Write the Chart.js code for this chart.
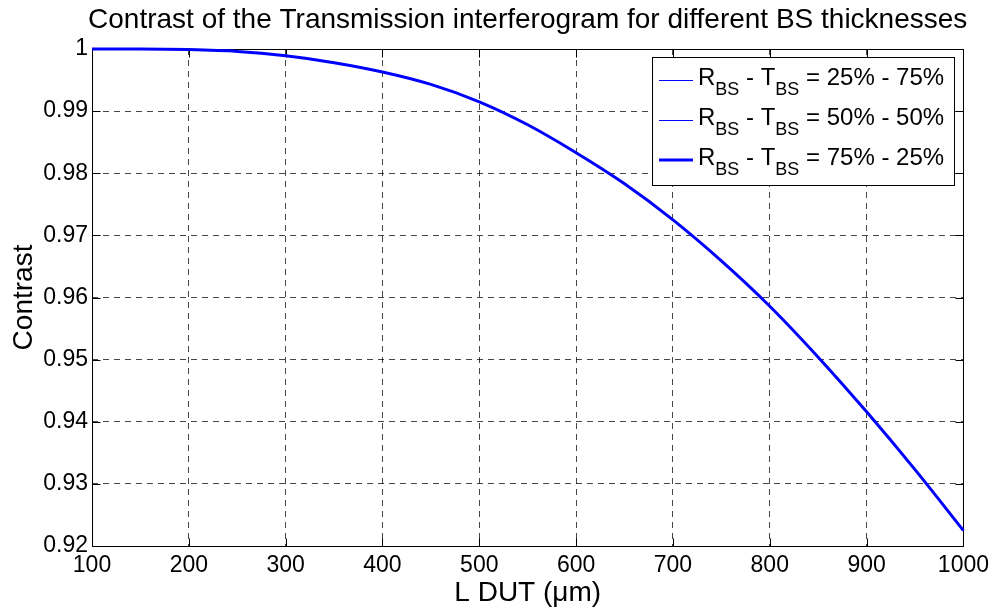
<!DOCTYPE html>
<html>
<head>
<meta charset="utf-8">
<script src="https://cdn.jsdelivr.net/npm/chart.js@4.4.1/dist/chart.umd.min.js"></script>
<style>
  html, body { margin: 0; padding: 0; background: #fff; }
  #wrap { width: 995px; height: 610px; position: relative; }
</style>
</head>
<body>
<div id="wrap"><canvas id="grafico"></canvas></div>
<script>
// L DUT en µm
const lDut = [100, 150, 200, 250, 300, 350, 400, 450, 500, 550, 600, 650, 700, 750, 800, 850, 900, 950, 1000];

// les trois courbes se superposent sur la figure
const contraste25 = [1.0000, 1.0000, 0.9999, 0.9996, 0.9989, 0.9978, 0.9963, 0.9943, 0.9915, 0.9878, 0.9833, 0.9783, 0.9725, 0.9659, 0.9586, 0.9504, 0.9416, 0.9323, 0.9225];
const contraste50 = [1.0000, 1.0000, 0.9999, 0.9996, 0.9989, 0.9978, 0.9963, 0.9943, 0.9915, 0.9878, 0.9833, 0.9783, 0.9725, 0.9659, 0.9586, 0.9504, 0.9416, 0.9323, 0.9225];
const contraste75 = [1.0000, 1.0000, 0.9999, 0.9996, 0.9989, 0.9978, 0.9963, 0.9943, 0.9915, 0.9878, 0.9833, 0.9783, 0.9725, 0.9659, 0.9586, 0.9504, 0.9416, 0.9323, 0.9225];

const xTicks = [100, 200, 300, 400, 500, 600, 700, 800, 900, 1000];
const yTicks = [0.92, 0.93, 0.94, 0.95, 0.96, 0.97, 0.98, 0.99, 1];

const legendes = [
  { r: '25%', t: '75%', largeur: 1 },
  { r: '50%', t: '50%', largeur: 1 },
  { r: '75%', t: '25%', largeur: 3 },
];

const FONTE = '"Liberation Sans", Arial, Helvetica, sans-serif';
const BLEU = '#0000ff';

const pontos = (ys) => lDut.map((x, i) => ({ x, y: ys[i] }));

// cadre + petites graduations vers l'intérieur (style MATLAB)
const cadre = {
  id: 'cadre',
  beforeDatasetsDraw(chart) {
    const { ctx, scales } = chart;
    const g = Math.round(scales.x.getPixelForValue(xTicks[0])) + 0.5;
    const d = Math.round(scales.x.getPixelForValue(xTicks[xTicks.length - 1])) + 0.5;
    const h = Math.round(scales.y.getPixelForValue(yTicks[yTicks.length - 1])) + 0.5;
    const b = Math.round(scales.y.getPixelForValue(yTicks[0])) + 0.5;
    ctx.save();
    ctx.strokeStyle = '#000';
    ctx.lineWidth = 1;
    ctx.setLineDash([]);
    ctx.strokeRect(g, h, d - g, b - h);
    const tl = 8;
    ctx.beginPath();
    xTicks.forEach(v => {
      const px = Math.round(scales.x.getPixelForValue(v)) + 0.5;
      ctx.moveTo(px, b); ctx.lineTo(px, b - tl);
      ctx.moveTo(px, h); ctx.lineTo(px, h + tl);
    });
    yTicks.forEach(v => {
      const py = Math.round(scales.y.getPixelForValue(v)) + 0.5;
      ctx.moveTo(g, py); ctx.lineTo(g + tl, py);
      ctx.moveTo(d, py); ctx.lineTo(d - tl, py);
    });
    ctx.stroke();
    ctx.restore();
  },
  afterDraw(chart) {
    const { ctx, chartArea: a } = chart;
    const cx = (a.left + a.right) / 2;
    ctx.save();
    ctx.fillStyle = '#000';

    // titre
    ctx.font = '28px ' + FONTE;
    ctx.textAlign = 'center';
    ctx.textBaseline = 'alphabetic';
    ctx.fillText('Contrast of the Transmission interferogram for different BS thicknesses', cx, 28);

    // titre axe x
    ctx.fillText('L DUT (\u03bcm)', cx, 601);

    // titre axe y
    ctx.save();
    ctx.translate(32, (a.top + a.bottom) / 2);
    ctx.rotate(-Math.PI / 2);
    ctx.fillText('Contrast', 0, 0);
    ctx.restore();

    // légende
    const bx = 652, by = 57, bw = 302, bh = 128;
    ctx.fillStyle = '#fff';
    ctx.fillRect(bx, by, bw, bh);
    ctx.strokeStyle = '#000';
    ctx.lineWidth = 1;
    ctx.strokeRect(bx + 0.5, by + 0.5, bw, bh);

    ctx.textAlign = 'left';
    legendes.forEach((l, i) => {
      const base = 85 + i * 40;
      const ly = l.largeur === 1 ? base - 4.5 : base - 5;
      ctx.strokeStyle = BLEU;
      ctx.lineWidth = l.largeur;
      ctx.beginPath();
      ctx.moveTo(659, ly);
      ctx.lineTo(693, ly);
      ctx.stroke();

      ctx.fillStyle = '#000';
      let x = 698;
      const morceau = (txt, taille, dy) => {
        ctx.font = taille + 'px ' + FONTE;
        ctx.fillText(txt, x, base + dy);
        x += ctx.measureText(txt).width;
      };
      morceau('R', 24, 0);
      morceau('BS', 18, 10);
      morceau(' - T', 24, 0);
      morceau('BS', 18, 10);
      morceau(' = ' + l.r + ' - ' + l.t, 24, 0);
    });
    ctx.restore();
  }
};

const grade = { color: 'rgba(0,0,0,0.72)', drawTicks: false, lineWidth: 1 };

new Chart(document.getElementById('grafico'), {
  type: 'line',
  data: {
    datasets: [
      { label: 'R_BS - T_BS = 25% - 75%', data: pontos(contraste25), borderColor: BLEU, borderWidth: 1 },
      { label: 'R_BS - T_BS = 50% - 50%', data: pontos(contraste50), borderColor: BLEU, borderWidth: 1 },
      { label: 'R_BS - T_BS = 75% - 25%', data: pontos(contraste75), borderColor: BLEU, borderWidth: 3 },
    ].map(d => ({ ...d, pointRadius: 0, fill: false, cubicInterpolationMode: 'monotone', clip: false })),
  },
  options: {
    responsive: true,
    maintainAspectRatio: false,
    animation: false,
    layout: { padding: { top: 49, right: 30, left: 0, bottom: 0 } },
    plugins: { legend: { display: false }, tooltip: { enabled: false }, title: { display: false } },
    scales: {
      x: {
        type: 'linear', min: 100, max: 1000,
        afterBuildTicks: (s) => { s.ticks = xTicks.map(v => ({ value: v })); },
        afterFit: (s) => { s.height = 64; },
        grid: grade,
        border: { display: false, dash: [6, 5] },
        ticks: {
          color: '#000', font: { size: 23, family: FONTE }, padding: 6, maxRotation: 0, autoSkip: false,
          callback: (v) => String(v),
        },
      },
      y: {
        type: 'linear', min: 0.92, max: 1,
        afterBuildTicks: (s) => { s.ticks = yTicks.map(v => ({ value: v })); },
        afterFit: (s) => { s.width = 92; },
        grid: grade,
        border: { display: false, dash: [6, 5] },
        ticks: {
          color: '#000', font: { size: 23, family: FONTE }, padding: 4, autoSkip: false,
          callback: (v) => String(Number(v.toFixed(2))),
        },
      },
    },
  },
  plugins: [cadre],
});
</script>
</body>
</html>
